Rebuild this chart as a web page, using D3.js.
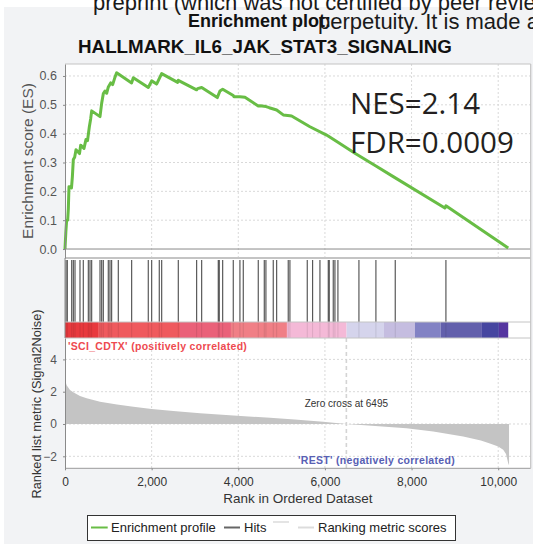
<!DOCTYPE html>
<html><head><meta charset="utf-8">
<script src="https://cdn.jsdelivr.net/npm/d3@7"></script>
<style>
html,body{margin:0;padding:0;background:#fff;}
svg{display:block;font-family:"Liberation Sans",Arial,sans-serif;}
</style></head>
<body><svg id="c" width="533" height="544"></svg>
<script>
// ---------------- data ----------------
const title = "HALLMARK_IL6_JAK_STAT3_SIGNALING";
const esRank = [0,20,38,62,77,92,150,170,192,223,254,335,362,438,485,520,562,593,616,808,846,885,923,962,1000,1054,1100,1154,1192,1538,1577,1923,2001,2115,2231,2600,2615,3039,3060,3155,3515,3577,3640,3884,3900,4038,4154,4461,4500,4640,4715,4886,5038,5192,5231,5654,6038,6300,6692,7177,7577,8769,8793,10231];
const esValue = [0,0.06,0.10,0.10,0.14,0.216,0.212,0.25,0.31,0.318,0.344,0.331,0.36,0.349,0.38,0.376,0.424,0.452,0.479,0.459,0.505,0.539,0.548,0.54,0.562,0.576,0.57,0.596,0.611,0.576,0.594,0.56,0.583,0.572,0.608,0.578,0.585,0.552,0.556,0.56,0.525,0.548,0.554,0.532,0.528,0.528,0.526,0.496,0.497,0.494,0.49,0.482,0.465,0.462,0.461,0.424,0.395,0.37,0.332,0.288,0.251,0.142,0.15,0.0035];
const hitRanks = [23,53,155,192,231,346,422,538,577,616,808,847,884,999,1038,1077,1230,1539,1922,2001,2176,2232,2615,3039,3155,3538,3561,3640,3884,4038,4115,4461,4600,4638,4807,4886,5153,5192,5592,5716,5885,6077,6100,6192,6231,6300,6785,7177,7623,8793];
const metricRank = [0,15,38,115,200,346,500,808,1200,1578,2000,2500,3118,3887,4734,5300,5958,6495,7000,7882,8500,9192,9600,9808,10000,10115,10180,10231,10250];
const metricValue = [2.9,2.6,2.4,2.1,1.95,1.73,1.6,1.38,1.2,1.07,0.93,0.8,0.66,0.52,0.39,0.28,0.14,0,-0.1,-0.27,-0.47,-0.78,-1.02,-1.2,-1.4,-1.6,-1.85,-2.43,-2.55];
const barStart = [0,762,2654,3831,5123,6500,7362,8077,8670,9624,10016];
const barEnd   = [762,2654,3831,5123,6500,7362,8077,8670,9624,10016,10231];
const barColor = ["#e8393e","#ef5a5e","#ea6179","#f07f86","#f4b9d7","#d5d4ec","#c5bde0","#8282c4","#6360ac","#4646a0","#5535a0"];
const esTicks = [0,0.1,0.2,0.3,0.4,0.5,0.6];
const metricTicks = [-2,0,2,4];
const xTicks = [0,2000,4000,6000,8000,10000];
const zeroCross = 6495;
const nesText = "NES=2.14", fdrText = "FDR=0.0009";
const legendItems = ["Enrichment profile","Hits","","Ranking metric scores"];

// ---------------- layout ----------------
const svg = d3.select("#c");
const L = 65, R = 530.7;
const esTop = 64, esBot = 258, hitTop = 260, barTop = 322, barBot = 338, rkBot = 468.3;

svg.append("rect").attr("x",4).attr("y",7).attr("width",529).attr("height",537).attr("fill","#f2f3f5");

// watermark / header text
svg.append("text").attr("x",93).attr("y",10).attr("font-size",22).attr("fill","#1a1a1a").text("preprint (which was not certified by peer review");
svg.append("text").attr("x",188).attr("y",27).attr("font-size",18).attr("font-weight","bold").attr("fill","#111").text("Enrichment plot:");
svg.append("text").attr("x",318).attr("y",28.5).attr("font-size",22).attr("fill","#1a1a1a").text("perpetuity. It is made a");
svg.append("text").attr("x",78).attr("y",52.5).attr("font-size",18.8).attr("font-weight","bold").attr("fill","#111").text(title);

const x = d3.scaleLinear().domain([0,10750]).range([L,R]);
const yES = d3.scaleLinear().domain([-0.0311,0.6415]).range([esBot,esTop]);
const yRk = d3.scaleLinear().domain([-2.743,5.325]).range([rkBot,barBot]);

// panel backgrounds
svg.append("rect").attr("x",L).attr("y",esTop).attr("width",R-L).attr("height",rkBot-esTop).attr("fill","#fff");

// grid
const gridCol = "#d9d9d9";
const g = svg.append("g");
esTicks.filter(d=>d>0).forEach(d=>{
  g.append("line").attr("x1",L).attr("x2",R).attr("y1",yES(d)).attr("y2",yES(d)).attr("stroke",gridCol).attr("stroke-dasharray","2,2");
});
xTicks.filter(d=>d>0).forEach(d=>{
  g.append("line").attr("x1",x(d)).attr("x2",x(d)).attr("y1",esTop).attr("y2",esBot).attr("stroke",gridCol).attr("stroke-dasharray","2,2");
  g.append("line").attr("x1",x(d)).attr("x2",x(d)).attr("y1",barBot).attr("y2",rkBot).attr("stroke",gridCol).attr("stroke-dasharray","2,2");
});
metricTicks.forEach(d=>{
  g.append("line").attr("x1",L).attr("x2",R).attr("y1",yRk(d)).attr("y2",yRk(d)).attr("stroke",gridCol).attr("stroke-dasharray","2,2");
});

// ES zero line
svg.append("line").attr("x1",L).attr("x2",R).attr("y1",yES(0)).attr("y2",yES(0)).attr("stroke","#8a8a8a").attr("stroke-width",1);

// ES curve
const esData = esRank.map((r,i)=>[r,esValue[i]]);
svg.append("path").datum(esData)
  .attr("d",d3.line().x(d=>x(d[0])).y(d=>yES(d[1])))
  .attr("fill","none").attr("stroke","#68bd45").attr("stroke-width",3).attr("stroke-linejoin","round");

// colour bar
barStart.forEach((s,i)=>{
  svg.append("rect").attr("x",x(s)).attr("y",barTop).attr("width",x(barEnd[i])-x(s)).attr("height",barBot-barTop).attr("fill",barColor[i]);
});
// hits
hitRanks.forEach(r=>{
  svg.append("line").attr("x1",x(r)).attr("x2",x(r)).attr("y1",hitTop).attr("y2",barTop).attr("stroke","#1e1e1e").attr("stroke-width",1.1).attr("stroke-opacity",0.8);
  svg.append("line").attr("x1",x(r)).attr("x2",x(r)).attr("y1",barTop).attr("y2",barBot).attr("stroke","#000").attr("stroke-width",1).attr("stroke-opacity",0.1);
});

// ranked metric area
const mData = metricRank.map((r,i)=>[r,metricValue[i]]);
svg.append("path").datum(mData)
  .attr("d",d3.area().x(d=>x(d[0])).y0(yRk(0)).y1(d=>yRk(d[1])))
  .attr("fill","#c4c4c4");

// zero cross dashed line
svg.append("line").attr("x1",x(zeroCross)).attr("x2",x(zeroCross)).attr("y1",barBot).attr("y2",rkBot)
  .attr("stroke","#d4d4d4").attr("stroke-width",1.6).attr("stroke-dasharray","4,3");

// panel borders
const bc = "#c4c4c4";
svg.append("line").attr("x1",L).attr("x2",R).attr("y1",esTop).attr("y2",esTop).attr("stroke",bc).attr("stroke-width",1.2);
svg.append("line").attr("x1",L).attr("x2",R).attr("y1",esBot).attr("y2",esBot).attr("stroke",bc).attr("stroke-width",2);
svg.append("line").attr("x1",L).attr("x2",R).attr("y1",barTop).attr("y2",barTop).attr("stroke",bc).attr("stroke-width",1);
svg.append("line").attr("x1",L).attr("x2",R).attr("y1",barBot).attr("y2",barBot).attr("stroke",bc).attr("stroke-width",1);
svg.append("line").attr("x1",L).attr("x2",R).attr("y1",rkBot).attr("y2",rkBot).attr("stroke","#9a9a9a").attr("stroke-width",1);
svg.append("line").attr("x1",R).attr("x2",R).attr("y1",esTop).attr("y2",rkBot).attr("stroke",bc).attr("stroke-width",1.2);

// axes
function styleAxis(sel){
  sel.select(".domain").attr("stroke","#8a8a8a");
  sel.selectAll(".tick line").attr("stroke","#8a8a8a");
  sel.selectAll("text").attr("fill","#555").attr("font-family","Liberation Sans, Arial, sans-serif");
}
svg.append("g").attr("transform",`translate(${L},0)`)
  .call(d3.axisLeft(yES).tickValues(esTicks).tickFormat(d3.format(".1f")).tickSize(2).tickPadding(6).tickSizeOuter(0))
  .call(s=>{styleAxis(s);s.selectAll("text").attr("font-size",12.5);});
svg.append("line").attr("x1",L).attr("x2",L).attr("y1",esBot).attr("y2",barBot).attr("stroke","#8a8a8a");
svg.append("g").attr("transform",`translate(${L},0)`)
  .call(d3.axisLeft(yRk).tickValues(metricTicks).tickFormat(d3.format("d")).tickSize(2).tickPadding(6).tickSizeOuter(0))
  .call(s=>{styleAxis(s);s.selectAll("text").attr("font-size",12);});
svg.append("g").attr("transform",`translate(0,${rkBot})`)
  .call(d3.axisBottom(x).tickValues(xTicks).tickFormat(d3.format(",")).tickSize(2).tickPadding(7).tickSizeOuter(0))
  .call(s=>{styleAxis(s);s.select(".domain").remove();s.selectAll("text").attr("font-size",12).attr("fill","#333");});

// axis titles
svg.append("text").attr("transform",`translate(32.5,161) rotate(-90)`).attr("text-anchor","middle")
  .attr("font-size",15.5).attr("fill","#555").text("Enrichment score (ES)");
svg.append("text").attr("transform",`translate(40.5,404) rotate(-90)`).attr("text-anchor","middle")
  .attr("font-size",12.8).attr("fill","#333").text("Ranked list metric (Signal2Noise)");
svg.append("text").attr("x",(L+R)/2).attr("y",503).attr("text-anchor","middle")
  .attr("font-size",13.5).attr("fill","#333").text("Rank in Ordered Dataset");

// annotations
svg.append("text").attr("x",68).attr("y",349.5).attr("font-size",10.5).attr("font-weight","bold").attr("fill","#ee4a50")
  .attr("letter-spacing",0.3).text("'SCI_CDTX' (positively correlated)");
svg.append("text").attr("x",298).attr("y",463.5).attr("font-size",10.5).attr("font-weight","bold").attr("fill","#5860b4")
  .attr("letter-spacing",0.3).text("'REST' (negatively correlated)");
svg.append("text").attr("x",x(zeroCross)).attr("y",406.5).attr("text-anchor","middle").attr("font-size",10).attr("fill","#333")
  .text("Zero cross at " + zeroCross);

// NES / FDR
svg.append("text").attr("x",350).attr("y",114).attr("font-family","Open Sans, sans-serif").attr("font-size",29.5).attr("fill","#231f20").text(nesText);
svg.append("text").attr("x",350).attr("y",152.5).attr("font-family","Open Sans, sans-serif").attr("font-size",29.5).attr("fill","#231f20").text(fdrText);

// legend
const lg = svg.append("g");
lg.append("rect").attr("x",87.5).attr("y",515.5).attr("width",368).attr("height",25).attr("fill","#fff").attr("stroke","#333").attr("stroke-width",1);
const lgY = 527.5;
lg.append("line").attr("x1",91).attr("x2",107.7).attr("y1",lgY).attr("y2",lgY).attr("stroke","#68bd45").attr("stroke-width",2);
lg.append("text").attr("x",111).attr("y",532).attr("font-size",13).attr("fill","#222").text(legendItems[0]);
lg.append("line").attr("x1",224).attr("x2",240).attr("y1",lgY).attr("y2",lgY).attr("stroke","#666").attr("stroke-width",2);
lg.append("text").attr("x",244).attr("y",532).attr("font-size",13).attr("fill","#222").text(legendItems[1]);
lg.append("line").attr("x1",273).attr("x2",289).attr("y1",522).attr("y2",522).attr("stroke","#e4e4e4").attr("stroke-width",2);
lg.append("line").attr("x1",298).attr("x2",314).attr("y1",lgY).attr("y2",lgY).attr("stroke","#dcdcdc").attr("stroke-width",2);
lg.append("text").attr("x",318).attr("y",532).attr("font-size",13).attr("fill","#222").text(legendItems[3]);
</script></body></html>
